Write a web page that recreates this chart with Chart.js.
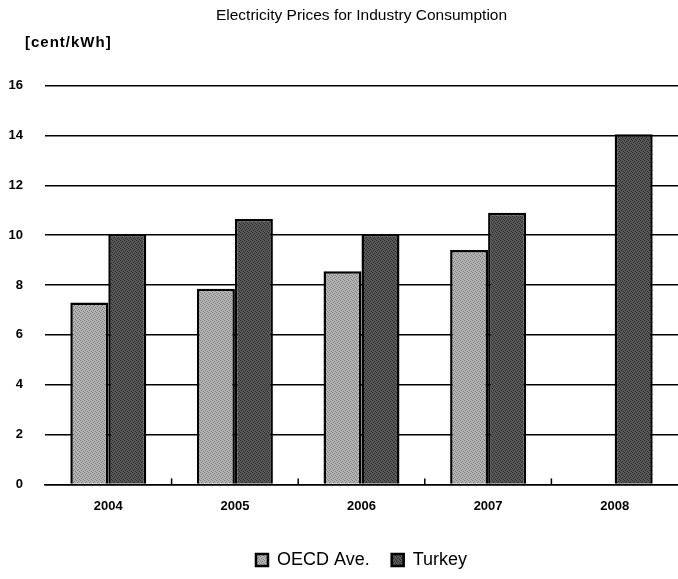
<!DOCTYPE html>
<html>
<head>
<meta charset="utf-8">
<script src="https://cdn.jsdelivr.net/npm/chart.js@4/dist/chart.umd.min.js"></script>
<style>
  html, body { margin: 0; padding: 0; background: #fff; }
  #wrap { width: 678px; height: 579px; }
</style>
</head>
<body>
<div id="wrap"><canvas id="bar-chart" width="678" height="579"></canvas></div>
<script>
var years = ['2004', '2005', '2006', '2007', '2008'];
var oecdPrices = [7.3, 7.85, 8.55, 9.4, null];
var turkeyPrices = [10.05, 10.65, 10.05, 10.9, 14.05];
var yTicks = [0, 2, 4, 6, 8, 10, 12, 14, 16];

// little stipple texture like the printed chart
function makePattern(light, dark) {
  var c = document.createElement('canvas');
  c.width = 4; c.height = 4;
  var g = c.getContext('2d');
  g.fillStyle = light;
  g.fillRect(0, 0, 4, 4);
  g.fillStyle = dark;
  g.fillRect(0, 0, 1, 1);
  g.fillRect(2, 1, 1, 1);
  g.fillRect(1, 2, 1, 1);
  g.fillRect(3, 3, 1, 1);
  return g.createPattern(c, 'repeat');
}

var extras = {
  id: 'extras',
  afterDraw: function(chart) {
    var ctx = chart.ctx;
    var area = chart.chartArea;
    var x = chart.scales.x;
    ctx.save();
    // unit label
    ctx.fillStyle = '#000';
    ctx.font = 'bold 15px "Liberation Sans", Arial, sans-serif';
    ctx.letterSpacing = '1px';
    ctx.textAlign = 'left';
    ctx.textBaseline = 'middle';
    ctx.fillText('[cent/kWh]', area.left - 20, 43);
    // small ticks between categories
    ctx.strokeStyle = '#000';
    ctx.lineWidth = 1.5;
    for (var i = 1; i < years.length; i++) {
      var px = (x.getPixelForValue(i - 1) + x.getPixelForValue(i)) / 2;
      ctx.beginPath();
      ctx.moveTo(px, area.bottom);
      ctx.lineTo(px, area.bottom - 6);
      ctx.stroke();
    }
    ctx.restore();
  }
};

new Chart(document.getElementById('bar-chart'), {
  type: 'bar',
  data: {
    labels: years,
    datasets: [{
      label: 'OECD Ave.',
      data: oecdPrices,
      backgroundColor: makePattern('#b4b4b4', '#7a7a7a'),
      borderColor: '#000',
      borderWidth: 2.5
    }, {
      label: 'Turkey',
      data: turkeyPrices,
      backgroundColor: makePattern('#585858', '#2a2a2a'),
      borderColor: '#000',
      borderWidth: 2.5
    }]
  },
  options: {
    responsive: false,
    animation: false,
    categoryPercentage: 0.6,
    barPercentage: 1.0,
    layout: {
      padding: { top: 6, right: 0, bottom: 0, left: 0 }
    },
    plugins: {
      title: {
        display: true,
        text: 'Electricity Prices for Industry Consumption',
        fullSize: false,
        color: '#000',
        font: { family: '"Liberation Sans", Arial, sans-serif', size: 15.5, weight: 'normal' },
        padding: { top: 0, bottom: 61 }
      },
      legend: {
        position: 'bottom',
        fullSize: false,
        labels: {
          color: '#000',
          boxWidth: 12,
          boxHeight: 12,
          padding: 22,
          font: { family: '"Liberation Sans", Arial, sans-serif', size: 18 }
        }
      },
      tooltip: { enabled: false }
    },
    scales: {
      x: {
        grid: { display: false },
        border: { display: true, color: '#000', width: 1.5 },
        afterFit: function(scale) { scale.height += 9; },
        ticks: {
          color: '#000',
          padding: 6,
          font: { family: '"Liberation Sans", Arial, sans-serif', size: 13, weight: 'bold' }
        }
      },
      y: {
        min: 0,
        max: 16,
        afterFit: function(scale) { scale.width = 45; },
        afterBuildTicks: function(scale) {
          scale.ticks = yTicks.map(function(v) { return { value: v }; });
        },
        grid: { color: '#000', lineWidth: 1.5, drawTicks: false },
        border: { display: false },
        ticks: {
          color: '#000',
          padding: 22,
          font: { family: '"Liberation Sans", Arial, sans-serif', size: 13, weight: 'bold' }
        }
      }
    }
  },
  plugins: [extras]
});
</script>
</body>
</html>
